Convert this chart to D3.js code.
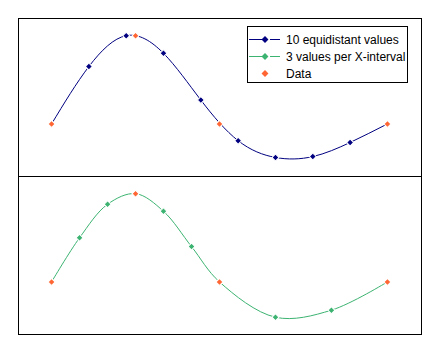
<!DOCTYPE html>
<html>
<head>
<meta charset="utf-8">
<script src="https://cdn.jsdelivr.net/npm/d3@7"></script>
<style>
  body { margin: 0; background: #fff; }
  svg { display: block; }
</style>
</head>
<body>
<svg width="435" height="351"></svg>
<script>
// data points (orange)
const dataX = [1, 2, 3, 5]
const dataY = [0, 1, 0, 0]

// 10 equidistant values (top panel, navy)
const equiX = [1, 1.444, 1.889, 2.333, 2.778, 3.222, 3.667, 4.111, 4.556, 5]
const equiY = [0, 0.65, 1.0, 0.80, 0.27, -0.19, -0.38, -0.37, -0.21, 0]

// 3 values per X-interval (bottom panel, green)
const intX = [1, 1.333, 1.667, 2, 2.333, 2.667, 3, 3.667, 4.333, 5]
const intY = [0, 0.50, 0.88, 1, 0.80, 0.40, 0, -0.40, -0.32, 0]

const legendLabels = ['10 equidistant values', '3 values per X-interval', 'Data']

const navy = '#000080'
const green = '#3cb371'
const orange = '#ff6633'

const svg = d3.select('svg')

const frameLeft = 18, frameRight = 421, frameTop = 18, frameMid = 176, frameBottom = 334

const xScale = d3.scaleLinear().domain([0.6, 5.4]).range([frameLeft, frameRight])
const yTop = d3.scaleLinear().domain([-0.59, 1.2]).range([frameMid, frameTop])
const yBot = d3.scaleLinear().domain([-0.59, 1.2]).range([frameBottom, frameMid])

const pts = (xs, ys) => xs.map((x, i) => ({ x, y: ys[i] }))
const data = pts(dataX, dataY)

const marker = d3.symbol().type(d3.symbolSquare).size(24)

const drawPanel = (yScale, series, color, curve) => {
  const g = svg.append('g')
  const line = d3.line()
    .x(d => xScale(d.x))
    .y(d => yScale(d.y))
    .curve(curve)

  g.append('path')
    .datum(series)
    .attr('d', line)
    .attr('fill', 'none')
    .attr('stroke', color)
    .attr('stroke-width', 1)

  g.selectAll('.m').data(series)
    .enter().append('path')
    .attr('class', 'm')
    .attr('d', marker)
    .attr('transform', d => `translate(${xScale(d.x)},${yScale(d.y)}) rotate(45)`)
    .attr('fill', color)
    .attr('stroke', 'white')
    .attr('stroke-width', 1)

  g.selectAll('.d').data(data)
    .enter().append('path')
    .attr('class', 'd')
    .attr('d', marker)
    .attr('transform', d => `translate(${xScale(d.x)},${yScale(d.y)}) rotate(45)`)
    .attr('fill', orange)
    .attr('stroke', 'white')
    .attr('stroke-width', 1)
}

drawPanel(yTop, pts(equiX, equiY), navy, d3.curveNatural)
drawPanel(yBot, pts(intX, intY), green, d3.curveCatmullRom.alpha(0.5))

// frame
svg.append('rect')
  .attr('x', frameLeft + 0.5).attr('y', frameTop + 0.5)
  .attr('width', frameRight - frameLeft).attr('height', frameBottom - frameTop)
  .attr('fill', 'none').attr('stroke', 'black').attr('stroke-width', 1)
svg.append('line')
  .attr('x1', frameLeft).attr('x2', frameRight + 1)
  .attr('y1', frameMid + 0.5).attr('y2', frameMid + 0.5)
  .attr('stroke', 'black').attr('stroke-width', 1)

// legend
const legend = svg.append('g')
legend.append('rect')
  .attr('x', 247.5).attr('y', 26.5)
  .attr('width', 160).attr('height', 56)
  .attr('fill', 'white').attr('stroke', 'black').attr('stroke-width', 1)

const legendColors = [navy, green, orange]
legendLabels.forEach((label, i) => {
  const cy = 39.5 + i * 17
  if (i < 2) {
    legend.append('line')
      .attr('x1', 249).attr('x2', 262).attr('y1', cy).attr('y2', cy)
      .attr('stroke', legendColors[i])
    legend.append('line')
      .attr('x1', 270).attr('x2', 280).attr('y1', cy).attr('y2', cy)
      .attr('stroke', legendColors[i])
  }
  legend.append('path')
    .attr('d', marker)
    .attr('transform', `translate(265,${cy}) rotate(45)`)
    .attr('fill', legendColors[i])
  legend.append('text')
    .attr('x', 286).attr('y', cy + 4)
    .style('font-family', '"Liberation Sans", Arial, sans-serif')
    .style('font-size', '12px')
    .style('fill', 'black')
    .text(label)
})
</script>
</body>
</html>
